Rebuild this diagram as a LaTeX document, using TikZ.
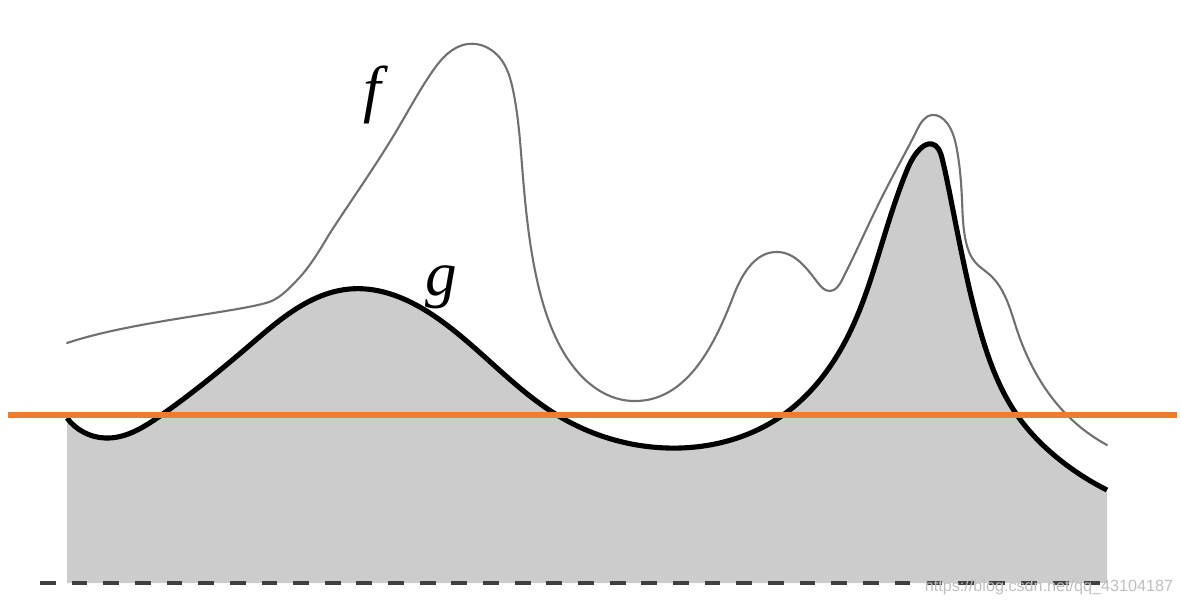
\documentclass[tikz,border=0pt]{standalone}
\usepackage{fontspec}
\setmainfont{Liberation Serif}
\setsansfont{Liberation Sans}
\usepackage{tikz}
\usetikzlibrary{hobby}
\definecolor{cutorange}{HTML}{ED7D31}
\definecolor{areagrey}{HTML}{CCCCCC}
\definecolor{fgrey}{HTML}{707070}

\begin{document}
\begin{tikzpicture}[
    x=0.01cm, y=-0.01cm,
    gcurve/.style={line width=1.45pt, black, line join=round, use Hobby shortcut},
    fcurve/.style={line width=0.6pt, fgrey, line cap=round, line join=round, use Hobby shortcut},
    cutline/.style={line width=1.6pt, cutorange},
    floorline/.style={line width=0.9pt, black!75, dash pattern=on 4.5pt off 4.5pt},
    lbl/.style={font=\fontsize{18}{20}\selectfont\itshape, inner sep=0pt}
]
\useasboundingbox (0,0) rectangle (1181,606);

% area under g
\fill[areagrey, use Hobby shortcut] (67,583) -- (67,418) .. (105,438) .. (160,416) .. (250,345) .. (350,289) .. (440,320) .. (557,415) .. (667,448) .. (783,415) .. (850,332) .. (883,240) .. (905,175) .. (920,149) .. (932,144) .. (942,158) .. (950,195) .. (962,255) .. (980,330) .. (1017,415) .. (1060,460) .. (1107,490) -- (1107,583) -- cycle;

% floor
\coordinate (fl0) at (40,583);
\coordinate (fl1) at (1110,583);
\draw[floorline] (fl0) -- (fl1);

% g
\draw[gcurve] (67,418) .. (105,438) .. (160,416) .. (250,345) .. (350,289) .. (440,320) .. (557,415) .. (667,448) .. (783,415) .. (850,332) .. (883,240) .. (905,175) .. (920,149) .. (932,144) .. (942,158) .. (950,195) .. (962,255) .. (980,330) .. (1017,415) .. (1060,460) .. (1107,490);

% f
\draw[fcurve] (67,343) .. controls (130,322) and (230,313) .. (266,303)
    .. controls (278,300) and (288,290) .. (300,277)
    .. controls (310,266) and (320,250) .. (330,233);
\draw[fcurve] ([out angle=57]330,233) .. (397,130) .. (432,72) .. (468,44) .. (500,58) .. (513,90) .. (522,165) .. (537,280) .. (560,346) .. (633,401) .. (733,297) .. (778,252) .. (818,283) .. (830,291) .. (842,280) .. (883,195) .. (917,130) .. (932,115) .. (947,123) .. (957,150) .. (962,200) .. (966,242) .. (975,262) .. (990,275) .. (1017,330) .. (1067,415) .. (1107,445);

% cut level
\coordinate (cut0) at (8,415);
\coordinate (cut1) at (1177,415);
\draw[cutline] (cut0) -- (cut1);

% labels
\node[lbl] (flabel) at (372,95) {f};
\node[lbl] (glabel) at (441,287) {g};

\node[font=\fontsize{4.6}{5}\selectfont\sffamily, text=black!25, inner sep=0pt] (mark) at (1049,587) {https://blog.csdn.net/qq\_43104187};
\end{tikzpicture}
\end{document}
